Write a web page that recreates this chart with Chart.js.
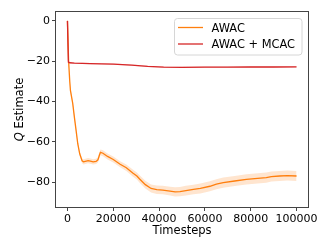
<!DOCTYPE html>
<html>
<head>
<meta charset="utf-8">
<script src="https://cdn.jsdelivr.net/npm/chart.js@4.4.0/dist/chart.umd.min.js"></script>
<style>
  html, body { margin: 0; padding: 0; background: #fff; }
  #wrap { width: 332px; height: 249px; }
</style>
</head>
<body>
<div id="wrap"><canvas id="qChart" width="332" height="249"></canvas></div>
<script>
// 값은 그림에서 읽은 추정치
const awacSteps = [0, 500, 1000, 1300, 2300, 3050, 3780, 4500, 5350, 6400,
  7000, 7800, 9000, 10000, 11200, 12500, 13300, 14000, 14400, 15500, 17500,
  20000, 23000, 25700, 28500, 30300, 31500, 34000, 36500, 39000, 41600,
  44800, 47000, 49100, 51700, 55000, 58000, 62200, 65000, 68000, 73000,
  78100, 83000, 86800, 89000, 92600, 96000, 100000];
const awacMean = [0, -20, -30, -34.5, -41, -48, -54.5, -61, -66, -69.5,
  -70, -69.7, -69.4, -69.6, -70, -69.8, -69, -66.5, -65.3, -65.7, -67.3,
  -68.8, -71.2, -72.9, -75.5, -77, -78.5, -81.3, -83.2, -83.8, -84,
  -84.5, -84.9, -84.8, -84.3, -83.7, -83.2, -82.1, -81.1, -80.3, -79.5,
  -78.7, -78.2, -77.8, -77.3, -77, -76.8, -77];
const awacHigh = [0, -19.5, -29.2, -33.5, -40, -47, -53.5, -60, -65, -68.3,
  -68.7, -68.4, -68.1, -68.3, -68.7, -68.5, -67.7, -65.1, -63.8, -64.2, -65.8,
  -67.3, -69.7, -71.3, -73.8, -75.3, -76.7, -79.4, -81.2, -81.7, -81.9,
  -82.3, -82.6, -82.5, -81.9, -81.3, -80.7, -79.6, -78.6, -77.8, -77,
  -76.2, -75.7, -75.3, -74.8, -74.5, -74.3, -74.5];
const awacLow = [0, -20.5, -30.8, -35.5, -42, -49, -55.5, -62, -67, -70.7,
  -71.3, -71, -70.7, -70.9, -71.3, -71.1, -70.3, -67.9, -66.8, -67.2, -68.8,
  -70.3, -72.7, -74.5, -77.2, -78.7, -80.3, -83.2, -85.2, -85.9, -86.1,
  -86.7, -87.2, -87.1, -86.7, -86.1, -85.7, -84.6, -83.6, -82.8, -82,
  -81.2, -80.7, -80.3, -79.8, -79.5, -79.3, -79.5];

const mcacSteps = [0, 400, 1000, 3000, 10000, 20000, 28000, 35000, 42000, 50000,
  60000, 70000, 80000, 90000, 100000];
const mcacMean = [0, -20.5, -20.8, -21, -21.2, -21.5, -22, -22.6, -23, -23.1,
  -23, -23, -22.9, -22.9, -22.8];
const mcacHigh = [0, -20.2, -20.5, -20.7, -20.9, -21.2, -21.7, -22.3, -22.7, -22.8,
  -22.7, -22.7, -22.6, -22.6, -22.5];
const mcacLow = [0, -20.8, -21.1, -21.3, -21.5, -21.8, -22.3, -22.9, -23.3, -23.4,
  -23.3, -23.3, -23.2, -23.2, -23.1];

const xTicks = [0, 20000, 40000, 60000, 80000, 100000];
const yTicks = [-80, -60, -40, -20, 0];

const FONT = "'DejaVu Sans', sans-serif";
const ORANGE = '#ff7f0e';
const RED = '#d62728';

function pts(xs, ys) {
  return xs.map((x, i) => ({ x: x, y: ys[i] }));
}

function minusSign(v) {
  return String(v).replace('-', '\u2212');
}

// matplotlib 스타일 테두리
const framePlugin = {
  id: 'frame',
  afterDatasetsDraw(chart) {
    const { ctx, chartArea: a } = chart;
    ctx.save();
    ctx.strokeStyle = '#444';
    ctx.lineWidth = 1;
    ctx.strokeRect(a.left - 0.5, a.top - 0.5, a.right - a.left + 1, a.bottom - a.top + 1);
    ctx.restore();
  }
};

// 범례 (플롯 안쪽 오른쪽 위)
const legendPlugin = {
  id: 'innerLegend',
  afterDraw(chart) {
    const { ctx } = chart;
    const items = [chart.data.datasets[4], chart.data.datasets[5]];
    const x0 = 174.5, y0 = 18.5, w = 127.5, h = 36.5, r = 3;
    ctx.save();
    ctx.beginPath();
    ctx.moveTo(x0 + r, y0);
    ctx.arcTo(x0 + w, y0, x0 + w, y0 + h, r);
    ctx.arcTo(x0 + w, y0 + h, x0, y0 + h, r);
    ctx.arcTo(x0, y0 + h, x0, y0, r);
    ctx.arcTo(x0, y0, x0 + w, y0, r);
    ctx.closePath();
    ctx.fillStyle = 'rgba(255,255,255,0.8)';
    ctx.fill();
    ctx.strokeStyle = '#d6d6d6';
    ctx.lineWidth = 1;
    ctx.stroke();

    ctx.font = '11.4px ' + FONT;
    ctx.textBaseline = 'alphabetic';
    ctx.textAlign = 'left';
    const rows = [27.5, 44];
    items.forEach((ds, i) => {
      ctx.strokeStyle = ds.borderColor;
      ctx.lineWidth = 1.3;
      ctx.beginPath();
      ctx.moveTo(178, rows[i]);
      ctx.lineTo(203, rows[i]);
      ctx.stroke();
      ctx.fillStyle = '#000';
      ctx.fillText(ds.label, 211.5, rows[i] + 4.3);
    });
    ctx.restore();
  }
};

// y축 제목: Q 는 이탤릭
const yTitlePlugin = {
  id: 'yTitle',
  afterDraw(chart) {
    const { ctx, chartArea: a } = chart;
    const italic = 'italic 11.5px ' + FONT;
    const normal = '11.5px ' + FONT;
    ctx.save();
    ctx.font = italic;
    const wq = ctx.measureText('Q').width;
    ctx.font = normal;
    const wr = ctx.measureText(' Estimate').width;
    ctx.translate(22.5, (a.top + a.bottom) / 2);
    ctx.rotate(-Math.PI / 2);
    ctx.fillStyle = '#000';
    ctx.textBaseline = 'alphabetic';
    ctx.textAlign = 'left';
    const start = -(wq + wr) / 2;
    ctx.font = italic;
    ctx.fillText('Q', start, 0);
    ctx.font = normal;
    ctx.fillText(' Estimate', start + wq, 0);
    ctx.restore();
  }
};

const tickStyle = {
  drawOnChartArea: false,
  drawTicks: true,
  tickLength: 4,
  tickColor: '#444',
  tickWidth: 1
};

const ctx = document.getElementById('qChart');
new Chart(ctx, {
  type: 'line',
  data: {
    datasets: [
      { label: 'awac low', data: pts(awacSteps, awacLow), borderWidth: 0, pointRadius: 0, fill: false, order: 2 },
      { label: 'awac high', data: pts(awacSteps, awacHigh), borderWidth: 0, pointRadius: 0,
        fill: '-1', backgroundColor: 'rgba(255,127,14,0.2)', order: 2 },
      { label: 'mcac low', data: pts(mcacSteps, mcacLow), borderWidth: 0, pointRadius: 0, fill: false, order: 2 },
      { label: 'mcac high', data: pts(mcacSteps, mcacHigh), borderWidth: 0, pointRadius: 0,
        fill: '-1', backgroundColor: 'rgba(214,39,40,0.2)', order: 2 },
      { label: 'AWAC', data: pts(awacSteps, awacMean), borderColor: ORANGE, borderWidth: 1.3,
        pointRadius: 0, fill: false, tension: 0, order: 1 },
      { label: 'AWAC + MCAC', data: pts(mcacSteps, mcacMean), borderColor: RED, borderWidth: 1.3,
        pointRadius: 0, fill: false, tension: 0, order: 0 }
    ]
  },
  options: {
    responsive: false,
    animation: false,
    devicePixelRatio: 1,
    layout: { padding: { left: 0, top: 12, right: 24, bottom: 0 } },
    plugins: {
      legend: { display: false },
      tooltip: { enabled: false }
    },
    scales: {
      x: {
        type: 'linear',
        min: -5000,
        max: 105000,
        afterBuildTicks: (scale) => { scale.ticks = xTicks.map(v => ({ value: v })); },
        afterFit: (scale) => { scale.height = 42; },
        ticks: {
          font: { family: FONT, size: 11 },
          color: '#000',
          padding: 2,
          maxRotation: 0,
          autoSkip: false,
          callback: (v) => String(v)
        },
        grid: tickStyle,
        border: { display: false },
        title: {
          display: true,
          text: 'Timesteps',
          font: { family: FONT, size: 11.5 },
          color: '#000',
          padding: { top: 0, bottom: 11 }
        }
      },
      y: {
        min: -92.4,
        max: 4.4,
        afterBuildTicks: (scale) => { scale.ticks = yTicks.map(v => ({ value: v })); },
        afterFit: (scale) => { scale.width = 56; },
        ticks: {
          font: { family: FONT, size: 11 },
          color: '#000',
          padding: 2,
          autoSkip: false,
          callback: (v) => minusSign(v)
        },
        grid: tickStyle,
        border: { display: false }
      }
    }
  },
  plugins: [framePlugin, yTitlePlugin, legendPlugin]
});
</script>
</body>
</html>
